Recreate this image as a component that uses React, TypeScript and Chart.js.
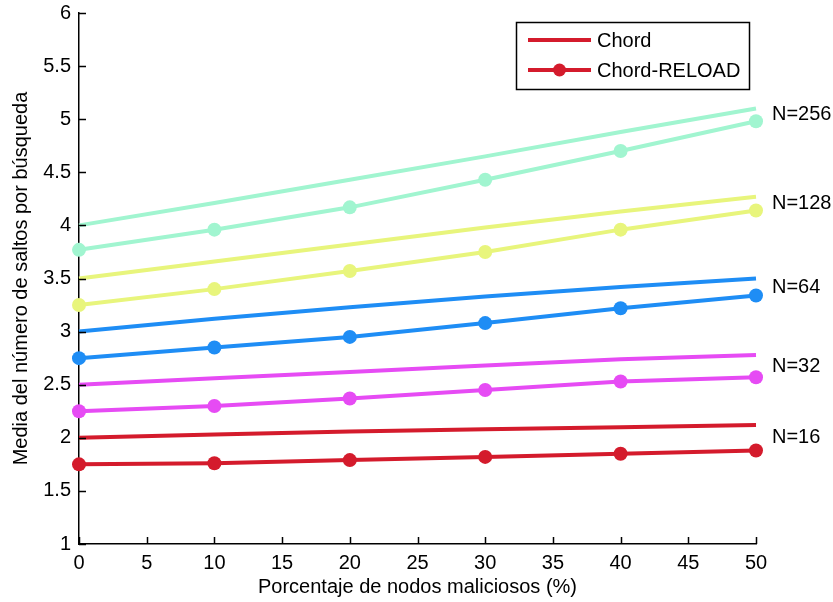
import React, { useEffect, useRef } from "react";
import { Chart, registerables } from "chart.js";

Chart.register(...registerables);

// Porcentaje de nodos maliciosos
const maliciousPct = [0, 10, 20, 30, 40, 50];

// Network sizes and their colours
const networkLabels = ["N=16", "N=32", "N=64", "N=128", "N=256"];
const networkColors = ["#d41b2c", "#e64bf4", "#1e8df5", "#e8f57c", "#a1f5d0"];

// Mean hops per lookup, plain Chord
const chord16 = [2.0, 2.03, 2.06, 2.08, 2.1, 2.12];
const chord32 = [2.5, 2.56, 2.62, 2.68, 2.74, 2.78];
const chord64 = [3.0, 3.12, 3.23, 3.33, 3.42, 3.5];
const chord128 = [3.5, 3.66, 3.82, 3.98, 4.13, 4.27];
const chord256 = [4.0, 4.21, 4.43, 4.65, 4.88, 5.1];

// Mean hops per lookup, Chord-RELOAD
const reload16 = [1.75, 1.76, 1.79, 1.82, 1.85, 1.88];
const reload32 = [2.25, 2.3, 2.37, 2.45, 2.53, 2.57];
const reload64 = [2.75, 2.85, 2.95, 3.08, 3.22, 3.34];
const reload128 = [3.25, 3.4, 3.57, 3.75, 3.96, 4.14];
const reload256 = [3.77, 3.96, 4.17, 4.43, 4.7, 4.98];

const chordSeries = [chord16, chord32, chord64, chord128, chord256];
const reloadSeries = [reload16, reload32, reload64, reload128, reload256];

const legendLabels = ["Chord", "Chord-RELOAD"];

const FONT_FAMILY = "'Liberation Sans', Arial, Helvetica, sans-serif";
const FONT_SIZE = 20;

// Inward tick marks on the left and bottom axes
const inwardTicks = {
  id: "inwardTicks",
  afterDraw(chart: any) {
    const { ctx, chartArea, scales } = chart;
    const len = 7;
    ctx.save();
    ctx.strokeStyle = "#000";
    ctx.lineWidth = 1.5;
    ctx.beginPath();
    scales.x.ticks.forEach((t: any) => {
      const px = Math.round(scales.x.getPixelForValue(t.value)) + 0.5;
      ctx.moveTo(px, chartArea.bottom);
      ctx.lineTo(px, chartArea.bottom - len);
    });
    scales.y.ticks.forEach((t: any) => {
      const py = Math.round(scales.y.getPixelForValue(t.value)) + 0.5;
      ctx.moveTo(chartArea.left, py);
      ctx.lineTo(chartArea.left + len, py);
    });
    ctx.stroke();
    ctx.restore();
  },
};

// Boxed legend in the upper right and the N=... labels at line ends
const annotations = {
  id: "annotations",
  afterDraw(chart: any) {
    const { ctx, scales } = chart;
    const x = scales.x;
    const y = scales.y;
    ctx.save();
    ctx.font = `${FONT_SIZE}px ${FONT_FAMILY}`;
    ctx.textBaseline = "middle";
    ctx.textAlign = "left";
    ctx.fillStyle = "#000";

    // size labels, centred between the two curves' final values
    const lastIdx = maliciousPct.length - 1;
    networkLabels.forEach((lab, i) => {
      const mid = (chordSeries[i][lastIdx] + reloadSeries[i][lastIdx]) / 2;
      ctx.fillText(lab, x.getPixelForValue(maliciousPct[lastIdx]) + 16, y.getPixelForValue(mid));
    });

    // legend box
    const bx = 516;
    const by = 22;
    const bw = 233;
    const bh = 67;
    ctx.fillStyle = "#fff";
    ctx.fillRect(bx, by, bw, bh);
    ctx.strokeStyle = "#000";
    ctx.lineWidth = 1.5;
    ctx.strokeRect(bx + 0.5, by + 0.5, bw, bh);
    const legendColor = networkColors[0];
    legendLabels.forEach((lab, i) => {
      const ly = by + 18 + i * 30;
      ctx.strokeStyle = legendColor;
      ctx.lineWidth = 4;
      ctx.beginPath();
      ctx.moveTo(bx + 12, ly);
      ctx.lineTo(bx + 75, ly);
      ctx.stroke();
      if (i === 1) {
        ctx.fillStyle = legendColor;
        ctx.beginPath();
        ctx.arc(bx + 43.5, ly, 6.5, 0, Math.PI * 2);
        ctx.fill();
      }
      ctx.fillStyle = "#000";
      ctx.fillText(lab, bx + 81, ly + 1);
    });
    ctx.restore();
  },
};

export default function App() {
  const canvasRef = useRef<HTMLCanvasElement | null>(null);

  useEffect(() => {
    if (!canvasRef.current) return;
    const datasets: any[] = [];
    chordSeries.forEach((vals, i) => {
      datasets.push({
        label: `Chord ${networkLabels[i]}`,
        data: vals.map((v, j) => ({ x: maliciousPct[j], y: v })),
        borderColor: networkColors[i],
        backgroundColor: networkColors[i],
        borderWidth: 4,
        pointRadius: 0,
        pointHoverRadius: 0,
        clip: false,
      });
    });
    reloadSeries.forEach((vals, i) => {
      datasets.push({
        label: `Chord-RELOAD ${networkLabels[i]}`,
        data: vals.map((v, j) => ({ x: maliciousPct[j], y: v })),
        borderColor: networkColors[i],
        backgroundColor: networkColors[i],
        borderWidth: 4,
        pointRadius: 7,
        pointBorderWidth: 0,
        clip: false,
      });
    });

    const chart = new Chart(canvasRef.current, {
      type: "line",
      data: { datasets },
      plugins: [inwardTicks, annotations],
      options: {
        animation: false,
        responsive: false,
        maintainAspectRatio: false,
        events: [],
        layout: { padding: { left: 0, right: 77, top: 13, bottom: 0 } },
        plugins: {
          legend: { display: false },
          tooltip: { enabled: false },
        },
        scales: {
          x: {
            type: "linear",
            min: 0,
            max: 50,
            afterFit(scale: any) {
              scale.height = 58;
              scale.paddingLeft = 0;
              scale.paddingRight = 0;
            },
            ticks: {
              stepSize: 5,
              color: "#000",
              padding: 7,
              maxRotation: 0,
              font: { family: FONT_FAMILY, size: FONT_SIZE },
            },
            grid: { display: true, drawOnChartArea: false, drawTicks: false },
            border: { display: true, color: "#000", width: 1.5 },
            title: {
              display: true,
              text: "Porcentaje de nodos maliciosos (%)",
              color: "#000",
              font: { family: FONT_FAMILY, size: FONT_SIZE },
              padding: { top: 0, bottom: 3 },
            },
          },
          y: {
            type: "linear",
            min: 1,
            max: 6,
            afterFit(scale: any) {
              scale.width = 79;
              scale.paddingTop = 0;
              scale.paddingBottom = 0;
            },
            ticks: {
              stepSize: 0.5,
              color: "#000",
              padding: 8,
              font: { family: FONT_FAMILY, size: FONT_SIZE },
              callback: (v: any) => String(Number(v)),
            },
            grid: { display: true, drawOnChartArea: false, drawTicks: false },
            border: { display: true, color: "#000", width: 1.5 },
            title: {
              display: true,
              text: "Media del número de saltos por búsqueda",
              color: "#000",
              font: { family: FONT_FAMILY, size: FONT_SIZE },
              padding: { top: 9, bottom: 0 },
            },
          },
        },
      },
    });
    return () => chart.destroy();
  }, []);

  return (
    <div style={{ position: "fixed", left: 0, top: 0, width: 833, height: 602, background: "#fff" }}>
      <canvas ref={canvasRef} width={833} height={602} style={{ width: 833, height: 602 }} />
    </div>
  );
}
